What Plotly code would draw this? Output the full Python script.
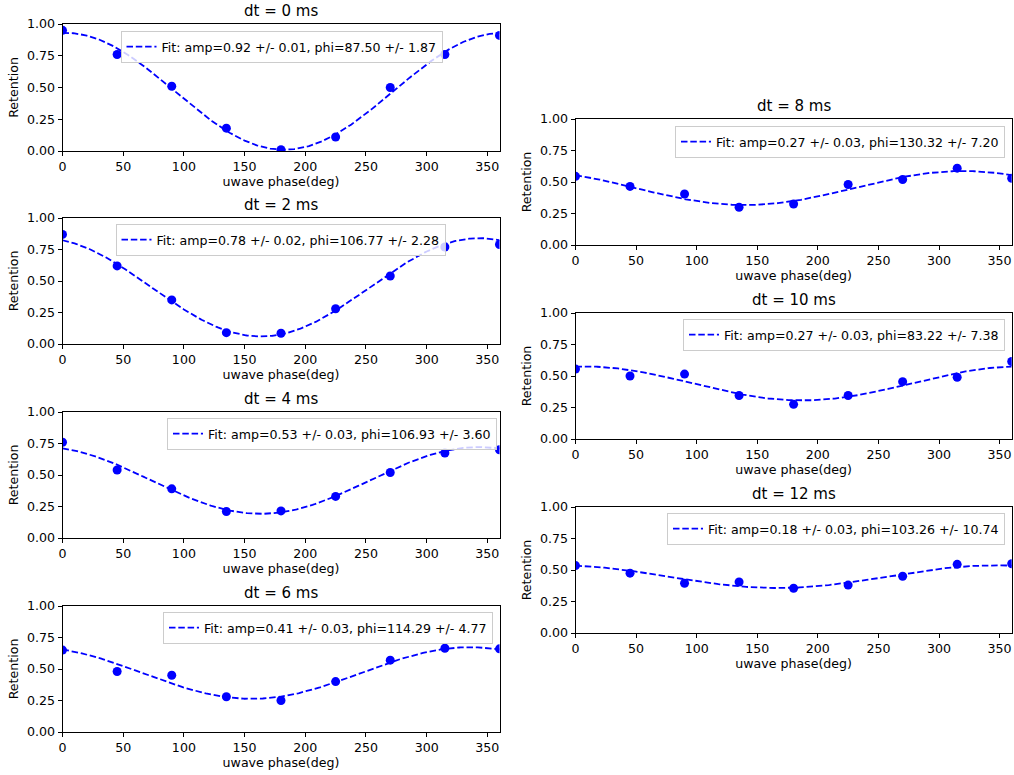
import numpy as np
import plotly.graph_objects as go

phase = [0, 45, 90, 135, 180, 225, 270, 315, 360]
dt_ms = [0, 2, 4, 6, 8, 10, 12]

ret_dt0 = [0.95, 0.76, 0.51, 0.18, 0.01, 0.11, 0.50, 0.76, 0.91]
ret_dt2 = [0.87, 0.62, 0.35, 0.09, 0.085, 0.28, 0.54, 0.77, 0.79]
ret_dt4 = [0.76, 0.54, 0.39, 0.21, 0.215, 0.33, 0.52, 0.675, 0.70]
ret_dt6 = [0.65, 0.48, 0.45, 0.28, 0.25, 0.40, 0.57, 0.665, 0.66]
ret_dt8 = [0.545, 0.465, 0.405, 0.30, 0.325, 0.48, 0.52, 0.61, 0.53]
ret_dt10 = [0.555, 0.50, 0.515, 0.345, 0.275, 0.345, 0.455, 0.49, 0.615]
ret_dt12 = [0.535, 0.475, 0.395, 0.405, 0.355, 0.38, 0.45, 0.545, 0.55]
retention = [ret_dt0, ret_dt2, ret_dt4, ret_dt6, ret_dt8, ret_dt10, ret_dt12]

fit_amp = [0.92, 0.78, 0.53, 0.41, 0.27, 0.27, 0.18]
fit_amp_err = [0.01, 0.02, 0.03, 0.03, 0.03, 0.03, 0.03]
fit_phi = [87.50, 106.77, 106.93, 114.29, 130.32, 83.22, 103.26]
fit_phi_err = [1.87, 2.28, 3.60, 4.77, 7.20, 7.38, 10.74]
fit_offset = [0.47, 0.45, 0.457, 0.468, 0.452, 0.441, 0.447]

W, H = 1014, 775
# axes boxes in pixels: (left, right), (top, bottom)
LX = (62.5, 499.5)
RX = (575.5, 1011.7)
boxes = [
    (LX, (24, 151)), (LX, (218, 344)), (LX, (412, 538)), (LX, (606, 732)),
    (RX, (119, 245)), (RX, (313, 439)), (RX, (507, 633)),
]
# legend anchors: (x px, xanchor, top px)
legend_pos = [
    (281.5, "center", 31), (280.5, "center", 224), (497, "right", 418),
    (493, "right", 612), (1005, "right", 126), (1005, "right", 319),
    (1005, "right", 513),
]

FONT = "DejaVu Sans"
FS = 12.6
BLUE = "#0000ff"
fig = go.Figure()
xfit = np.linspace(0, 360, 361)
annotations = []
layout = {}

for i in range(7):
    n = "" if i == 0 else str(i + 1)
    (x0, x1), (t, b) = boxes[i]
    xd = [x0 / W, x1 / W]
    yd = [1 - b / H, 1 - t / H]
    yfit = fit_offset[i] + fit_amp[i] / 2 * np.sin(np.deg2rad(xfit + fit_phi[i]))
    label = (f"Fit: amp={fit_amp[i]:.2f} +/- {fit_amp_err[i]:.2f}, "
             f"phi={fit_phi[i]:.2f} +/- {fit_phi_err[i]:.2f}")
    fig.add_trace(go.Scatter(
        x=phase, y=retention[i], mode="markers",
        marker=dict(color=BLUE, size=9), showlegend=False,
        xaxis="x" + n, yaxis="y" + n))
    fig.add_trace(go.Scatter(
        x=xfit, y=yfit, mode="lines", name=label,
        line=dict(color=BLUE, width=1.8, dash="6.5px,2.8px"),
        xaxis="x" + n, yaxis="y" + n, legend="legend" + n, showlegend=True))
    common = dict(showline=True, linecolor="black", linewidth=1, mirror=True,
                  ticks="outside", ticklen=4, tickwidth=1, tickcolor="black",
                  showgrid=False, zeroline=False, automargin=False,
                  tickfont=dict(family=FONT, size=FS, color="black"))
    layout["xaxis" + n] = dict(
        domain=xd, range=[0, 360], tickvals=[0, 50, 100, 150, 200, 250, 300, 350],
        anchor="y" + n,
        title=dict(text="uwave phase(deg)", standoff=3,
                   font=dict(family=FONT, size=FS, color="black")),
        **common)
    layout["yaxis" + n] = dict(
        domain=yd, range=[0, 1], tickvals=[0, 0.25, 0.5, 0.75, 1.0],
        tickformat=".2f", anchor="x" + n,
        title=dict(text="Retention", standoff=5,
                   font=dict(family=FONT, size=FS, color="black")),
        **common)
    lx, la, lt = legend_pos[i]
    layout["legend" + n] = dict(
        x=lx / W, xanchor=la, y=1 - lt / H, yanchor="top",
        bgcolor="rgba(255,255,255,0.8)", bordercolor="#cccccc", borderwidth=1,
        font=dict(family=FONT, size=FS, color="black"),
        itemwidth=30, tracegroupgap=0)
    annotations.append(dict(
        text=f"dt = {dt_ms[i]} ms", x=(xd[0] + xd[1]) / 2, y=yd[1],
        xref="paper", yref="paper", xanchor="center", yanchor="bottom",
        yshift=2, showarrow=False,
        font=dict(family=FONT, size=15, color="black")))

fig.update_layout(
    width=W, height=H, margin=dict(l=0, r=0, t=0, b=0),
    paper_bgcolor="white", plot_bgcolor="white",
    annotations=annotations, **layout)

fig.write_html("out.html")
